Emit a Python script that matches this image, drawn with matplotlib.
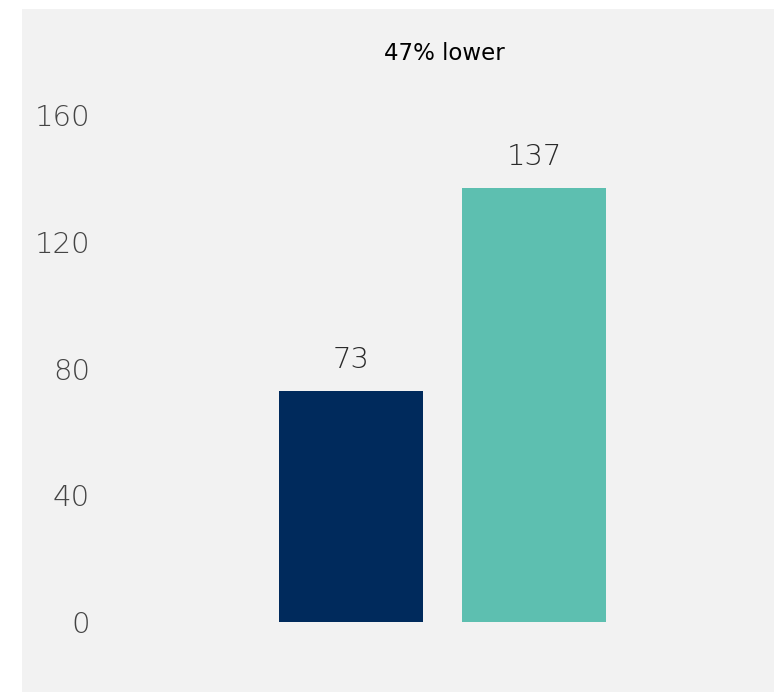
import matplotlib.pyplot as plt
from matplotlib.patches import Rectangle

categories = ['A', 'B']
values = [73, 137]
colors = ['#002a5c', '#5dbfb0']
yticks = [0, 40, 80, 120, 160]
note = '47% lower'

plt.rcParams['font.family'] = ['DejaVu Sans']

W, H = 774, 692
fig = plt.figure(figsize=[W / 100, H / 100], dpi=100)
fig.patch.set_facecolor('white')
# gray panel behind the chart
fig.patches.append(Rectangle((22 / W, 0), 1 - 22 / W, 1 - 9 / H, transform=fig.transFigure,
                             facecolor='#f2f2f2', edgecolor='none', zorder=-10))

left, right, bottom, top = 100, 750, 622, 115
ax = fig.add_axes([left / W, 1 - bottom / H, (right - left) / W, (bottom - top) / H])
ax.set_facecolor('none')
ax.set_zorder(1)

step = 183.0
x = list(range(len(values)))
bars = ax.bar(x, values, width=144 / step, color=colors)
ax.set_xlim(-(351 - left) / step, (right - 351) / step)
ax.set_ylim(0, 160)

ax.set_yticks(yticks)
ax.set_yticklabels([str(t) for t in yticks], fontsize=21, color='#444444', fontweight='light')
ax.tick_params(axis='y', length=0, pad=7)
ax.set_xticks([])
for s in ax.spines.values():
    s.set_visible(False)

for b, v in zip(bars, values):
    ax.annotate(str(v), (b.get_x() + b.get_width() / 2, v), xytext=(0, 12),
                textcoords='offset points', ha='center', va='bottom',
                fontsize=21, color='#2a2a2a', fontweight='light')

fig.text(444 / W, 1 - 54 / H, note, ha='center', va='center', fontsize=16.5, color='black')

fig.savefig('out.png', dpi=100)
